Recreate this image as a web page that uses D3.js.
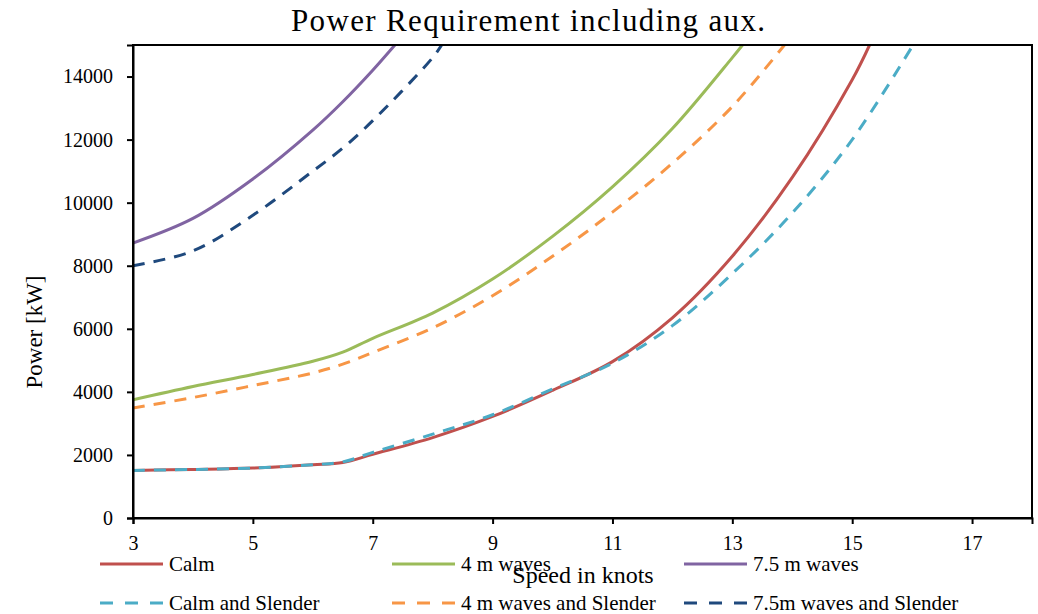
<!DOCTYPE html>
<html>
<head>
<meta charset="utf-8">
<script src="https://cdn.jsdelivr.net/npm/d3@7"></script>
<style>
  html, body { margin: 0; padding: 0; background: #fff; }
  svg text { font-family: "Liberation Serif", "Times New Roman", Times, serif; }
</style>
</head>
<body>
<svg id="chart" width="1038" height="614"></svg>
<script>
// ---- data ----
const titleText = "Power Requirement including aux.";
const xLabel = "Speed in knots";
const yLabel = "Power [kW]";
const xTicks = [3, 5, 7, 9, 11, 13, 15, 17];
const yTicks = [0, 2000, 4000, 6000, 8000, 10000, 12000, 14000];

const speedCalm = [3, 4, 5, 6, 6.5, 7, 8, 9, 10, 11, 12, 13, 14, 15, 15.29];
const powerCalm = [1510, 1540, 1585, 1690, 1760, 2020, 2550, 3220, 4050, 4960, 6350, 8300, 10800, 13900, 15000];

const speed4m = [3, 4, 5, 6, 6.5, 7, 8, 9, 10, 11, 12, 13, 13.17];
const power4m = [3750, 4170, 4550, 4970, 5260, 5700, 6500, 7580, 8930, 10500, 12350, 14600, 15000];

const speed75m = [3, 4, 5, 6, 6.5, 7, 7.37];
const power75m = [8720, 9500, 10750, 12300, 13200, 14200, 15000];

const speedCalmS = [3, 4, 5, 6, 6.5, 7, 8, 9, 10, 11, 12, 13, 14, 15, 16];
const powerCalmS = [1510, 1540, 1585, 1690, 1780, 2080, 2660, 3275, 4090, 4910, 6100, 7750, 9670, 12000, 14950];

const speed4mS = [3, 4, 5, 6, 6.5, 7, 8, 9, 10, 11, 12, 13, 13.87];
const power4mS = [3490, 3820, 4200, 4600, 4880, 5250, 6030, 7050, 8300, 9700, 11250, 13050, 15000];

const speed75mS = [3, 4, 5, 6, 6.5, 7, 8, 8.15];
const power75mS = [8000, 8470, 9600, 11000, 11730, 12600, 14600, 15000];

const seriesNames = ["Calm", "4 m waves", "7.5 m waves", "Calm and Slender", "4 m waves and Slender", "7.5m waves and Slender"];
const seriesColors = ["#C0504D", "#9BBB59", "#8064A2", "#4BACC6", "#F79646", "#1F497D"];
const seriesDashed = [false, false, false, true, true, true];
const seriesSpeeds = [speedCalm, speed4m, speed75m, speedCalmS, speed4mS, speed75mS];
const seriesPowers = [powerCalm, power4m, power75m, powerCalmS, power4mS, power75mS];

const FONT = "'Liberation Serif', 'Times New Roman', Times, serif";

// ---- layout ----
const svg = d3.select("#chart");
const plot = { left: 133, top: 45, right: 1032, bottom: 518 };

const x = d3.scaleLinear().domain([3, 18]).range([plot.left, plot.right]);
const y = d3.scaleLinear().domain([0, 15000]).range([plot.bottom, plot.top]);

svg.append("defs").append("clipPath").attr("id", "plotClip")
  .append("rect")
  .attr("x", plot.left).attr("y", plot.top)
  .attr("width", plot.right - plot.left).attr("height", plot.bottom - plot.top);

// title
svg.append("text")
  .attr("x", 528).attr("y", 31)
  .attr("text-anchor", "middle")
  .style("font-family", FONT)
  .attr("font-size", 31)
  .attr("textLength", 474)
  .attr("lengthAdjust", "spacing")
  .attr("fill", "#000")
  .text(titleText);

// series lines
const line = d3.line()
  .x(d => x(d[0]))
  .y(d => y(d[1]))
  .curve(d3.curveCatmullRom.alpha(0.5));

const gLines = svg.append("g").attr("clip-path", "url(#plotClip)");
seriesNames.forEach((name, i) => {
  const pts = seriesSpeeds[i].map((s, j) => [s, seriesPowers[i][j]]);
  gLines.append("path")
    .datum(pts)
    .attr("d", line)
    .attr("fill", "none")
    .attr("stroke", seriesColors[i])
    .attr("stroke-width", 3)
    .attr("stroke-dasharray", seriesDashed[i] ? "12,9" : null);
});

// plot border
svg.append("rect")
  .attr("x", plot.left).attr("y", plot.top)
  .attr("width", plot.right - plot.left).attr("height", plot.bottom - plot.top)
  .attr("fill", "none").attr("stroke", "#000").attr("stroke-width", 2);

// axes
const xAxis = d3.axisBottom(x).tickValues(xTicks).tickSize(6).tickPadding(12).tickFormat(d3.format("d"));
const yAxis = d3.axisLeft(y).tickValues(yTicks).tickSize(6).tickPadding(14).tickFormat(d3.format("d"));

const gx = svg.append("g").attr("transform", `translate(0,${plot.bottom})`).call(xAxis);
const gy = svg.append("g").attr("transform", `translate(${plot.left},0)`).call(yAxis);
[gx, gy].forEach(g => {
  g.attr("font-family", null);
  g.select(".domain").attr("stroke", "#000").attr("stroke-width", 2);
  g.selectAll(".tick line").attr("stroke", "#000").attr("stroke-width", 2);
  g.selectAll(".tick text").attr("font-size", 20).attr("fill", "#000")
    .style("font-family", FONT);
});

// axis titles
svg.append("text")
  .attr("x", 583).attr("y", 583)
  .attr("text-anchor", "middle")
  .style("font-family", FONT)
  .attr("font-size", 24)
  .attr("fill", "#000")
  .text(xLabel);

svg.append("text")
  .attr("transform", "translate(42,332) rotate(-90)")
  .attr("text-anchor", "middle")
  .style("font-family", FONT)
  .attr("font-size", 23)
  .attr("fill", "#000")
  .text(yLabel);

// legend
const legendCols = [100, 392, 684];
const legendRows = [564, 603];
seriesNames.forEach((name, i) => {
  const cx = legendCols[i % 3];
  const cy = legendRows[Math.floor(i / 3)];
  const g = svg.append("g");
  g.append("line")
    .attr("x1", cx).attr("x2", cx + 63)
    .attr("y1", cy).attr("y2", cy)
    .attr("stroke", seriesColors[i])
    .attr("stroke-width", 3)
    .attr("stroke-dasharray", seriesDashed[i] ? "13,12" : null);
  g.append("text")
    .attr("x", cx + 69).attr("y", cy + 7)
    .style("font-family", FONT)
    .attr("font-size", 21)
    .attr("fill", "#000")
    .text(name);
});
</script>
</body>
</html>
